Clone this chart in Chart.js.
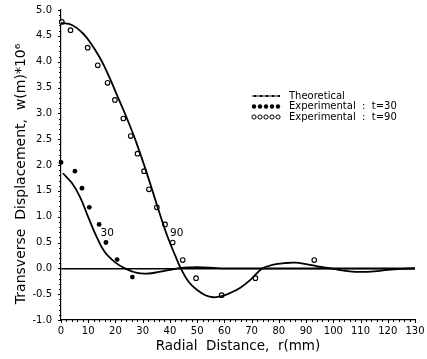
<!DOCTYPE html>
<html>
<head>
<meta charset="utf-8">
<script src="https://cdn.jsdelivr.net/npm/chart.js@4"></script>
<style>
  html, body { margin: 0; padding: 0; background: #fff; }
  #wrap { width: 427px; height: 359px; }
</style>
</head>
<body>
<div id="wrap"><canvas id="chart" width="427" height="359"></canvas></div>
<script>
// theoretical curve t=30 (r in mm, w * 1e6)
const theoryR30 = [0.7, 4, 7, 10, 13, 16, 20, 23.5, 28, 32, 36, 40, 44, 48, 52, 56, 60, 70, 80, 90, 100, 110, 120, 130];
const theoryW30 = [1.84, 1.65, 1.38, 0.99, 0.62, 0.32, 0.11, 0, -0.09, -0.1, -0.07, -0.03, 0.01, 0.02, 0.02, 0.01, 0, 0, 0, 0, 0, 0, 0, 0];

// theoretical curve t=90
const theoryR90 = [0, 4, 8, 11, 14, 16, 18, 21, 24, 27, 30, 33, 36, 39, 42, 44, 47, 50, 53, 56, 59, 62, 66, 70, 74, 78, 82, 86, 90, 94, 98, 102, 106, 110, 115, 120, 125, 130];
const theoryW90 = [4.75, 4.71, 4.55, 4.35, 4.1, 3.9, 3.67, 3.3, 2.93, 2.53, 2.08, 1.6, 1.1, 0.63, 0.24, 0, -0.27, -0.42, -0.52, -0.56, -0.54, -0.48, -0.37, -0.2, 0, 0.07, 0.1, 0.11, 0.08, 0.04, 0.01, -0.03, -0.06, -0.07, -0.06, -0.03, -0.01, 0];

// experimental points
const expR30 = [0, 5.1, 7.7, 10.4, 14, 16.5, 20.6, 26.2];
const expW30 = [2.05, 1.88, 1.55, 1.18, 0.85, 0.5, 0.17, -0.17];
const expR90 = [0.3, 3.5, 9.8, 13.5, 17.1, 19.8, 22.9, 25.6, 28.1, 30.5, 32.3, 35.2, 38.2, 41, 44.7, 49.6, 59, 71.4, 93];
const expW90 = [4.77, 4.61, 4.27, 3.93, 3.59, 3.26, 2.9, 2.56, 2.22, 1.88, 1.53, 1.18, 0.85, 0.5, 0.16, -0.19, -0.52, -0.19, 0.16];

const legendLabels = ['Theoretical', 'Experimental  :  t=30', 'Experimental  :  t=90'];
const curveLabels = ['30', '90'];
const curveLabelPos = [[17, 0.68], [42.5, 0.68]];

const FONT = '"DejaVu Sans", sans-serif';
const pts = (xs, ys) => xs.map((x, i) => ({ x: x, y: ys[i] }));

// minor ticks, legend and curve labels
const decorations = {
    id: 'decorations',
    afterDraw(chart) {
        const ctx = chart.ctx;
        const xs = chart.scales.x, ys = chart.scales.y;
        const area = chart.chartArea;
        ctx.save();
        ctx.strokeStyle = '#000';
        ctx.lineWidth = 1;
        for (let v = 0; v <= 130; v += 2) {
            const px = Math.round(xs.getPixelForValue(v)) + 0.5;
            const len = v % 10 === 0 ? 3 : 2;
            ctx.beginPath();
            ctx.moveTo(px, area.bottom);
            ctx.lineTo(px, area.bottom + len);
            ctx.stroke();
        }
        for (let i = -10; i <= 50; i++) {
            const py = Math.round(ys.getPixelForValue(i / 10)) + 0.5;
            const len = i % 5 === 0 ? 3 : 2;
            ctx.beginPath();
            ctx.moveTo(area.left - len, py);
            ctx.lineTo(area.left, py);
            ctx.stroke();
        }

        // legend
        const lx = 252, ly = 96, step = 10.5;
        ctx.fillStyle = '#000';
        ctx.font = '10px ' + FONT;
        ctx.textBaseline = 'middle';
        ctx.textAlign = 'left';
        legendLabels.forEach((t, i) => ctx.fillText(t, lx + 37, ly + i * step));
        ctx.lineWidth = 1;
        ctx.beginPath();
        ctx.moveTo(lx, ly); ctx.lineTo(lx + 28, ly);
        ctx.stroke();
        for (let k = 0; k < 5; k++) {
            ctx.fillRect(lx + 2 + k * 6, ly - 1, 2, 2);
        }
        for (let k = 0; k < 5; k++) {
            ctx.beginPath();
            ctx.arc(lx + 2 + k * 6, ly + step, 2.2, 0, Math.PI * 2);
            ctx.fill();
            ctx.beginPath();
            ctx.arc(lx + 2 + k * 6, ly + 2 * step, 2.1, 0, Math.PI * 2);
            ctx.stroke();
        }

        // curve labels
        ctx.font = '10.5px ' + FONT;
        ctx.textAlign = 'center';
        curveLabels.forEach((t, i) => {
            ctx.fillText(t, xs.getPixelForValue(curveLabelPos[i][0]), ys.getPixelForValue(curveLabelPos[i][1]));
        });
        ctx.restore();
    }
};

new Chart(document.getElementById('chart'), {
    type: 'scatter',
    data: {
        datasets: [
            {
                label: 'Theoretical t=30',
                data: pts(theoryR30, theoryW30),
                showLine: true,
                borderColor: '#000',
                borderWidth: 1.8,
                pointRadius: 0,
                tension: 0.4
            },
            {
                label: 'Theoretical t=90',
                data: pts(theoryR90, theoryW90),
                showLine: true,
                borderColor: '#000',
                borderWidth: 1.8,
                pointRadius: 0,
                tension: 0.4
            },
            {
                label: 'Experimental t=30',
                data: pts(expR30, expW30),
                pointRadius: 2.4,
                pointBackgroundColor: '#000',
                pointBorderColor: '#000',
                pointBorderWidth: 0,
                clip: false
            },
            {
                label: 'Experimental t=90',
                data: pts(expR90, expW90),
                pointRadius: 2.3,
                pointBackgroundColor: '#fff',
                pointBorderColor: '#000',
                pointBorderWidth: 1.1,
                clip: false
            }
        ]
    },
    options: {
        responsive: false,
        animation: false,
        layout: { padding: { left: 0, right: 12, top: 10, bottom: 0 } },
        plugins: {
            legend: { display: false },
            tooltip: { enabled: false }
        },
        scales: {
            x: {
                type: 'linear',
                min: 0,
                max: 130,
                afterFit: s => { s.height = 39; s.paddingLeft = 0; s.paddingRight = 0; },
                grid: { display: false, drawTicks: false, tickLength: 0 },
                border: { display: true, color: '#000', width: 1.2 },
                ticks: {
                    stepSize: 10,
                    padding: 5,
                    maxRotation: 0,
                    color: '#000',
                    font: { family: FONT, size: 10 }
                },
                title: {
                    display: true,
                    text: 'Radial  Distance,  r(mm)',
                    color: '#000',
                    font: { family: FONT, size: 13.5 },
                    padding: { top: 0, bottom: 4 }
                }
            },
            y: {
                min: -1,
                max: 5,
                afterFit: s => { s.width = 61; s.paddingTop = 0; s.paddingBottom = 0; },
                grid: {
                    drawTicks: false,
                    color: c => (c.tick && Math.abs(c.tick.value) < 1e-9) ? '#000' : 'rgba(0,0,0,0)',
                    lineWidth: 1.5
                },
                border: { display: true, color: '#000', width: 1.2 },
                ticks: {
                    stepSize: 0.5,
                    padding: 9,
                    color: '#000',
                    font: { family: FONT, size: 10 },
                    callback: v => v.toFixed(1)
                },
                title: {
                    display: true,
                    text: 'Transverse  Displacement,  w(m)*10⁶    ',
                    color: '#000',
                    font: { family: FONT, size: 14 },
                    padding: { top: 13, bottom: 0 }
                }
            }
        }
    },
    plugins: [decorations]
});
</script>
</body>
</html>
